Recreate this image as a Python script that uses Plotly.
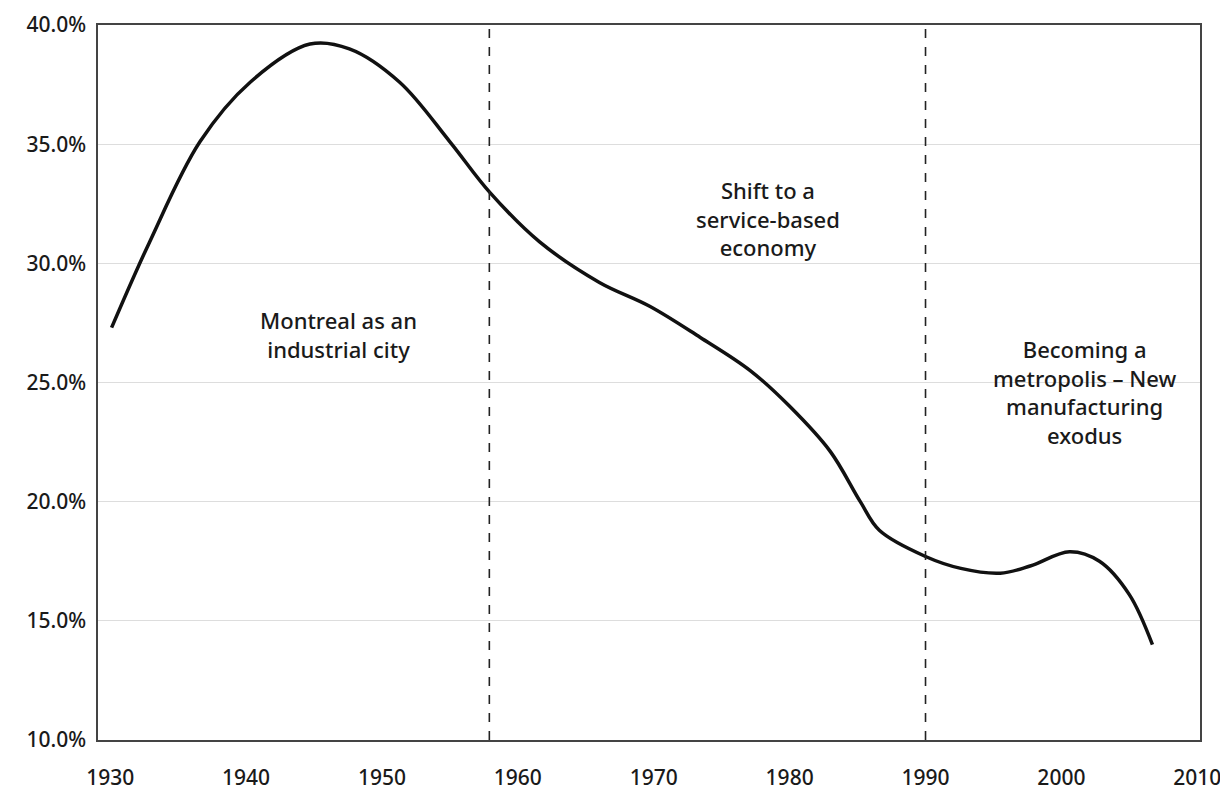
import plotly.graph_objects as go

years = [1930.1, 1932.9, 1936.6, 1940.3, 1944.7, 1947.6, 1951.3, 1955.0, 1957.9, 1961.6,
         1966.0, 1969.7, 1973.4, 1977.1, 1980.0, 1983.0, 1985.2, 1986.6, 1990.0, 1992.6,
         1995.5, 1997.7, 2000.6, 2002.8, 2005.0, 2006.7]
share = [27.3, 30.9, 35.1, 37.6, 39.2, 39.0, 37.6, 35.1, 33.0, 30.9,
         29.2, 28.2, 26.9, 25.5, 24.0, 22.1, 20.0, 18.8, 17.7, 17.2,
         17.0, 17.3, 17.9, 17.5, 16.1, 14.0]
share_frac = [v / 100 for v in share]

period_breaks = [1957.9, 1990.0]
period_labels = ["Montreal as an<br>industrial city",
                 "Shift to a<br>service-based<br>economy",
                 "Becoming a<br>metropolis – New<br>manufacturing<br>exodus"]
label_x = [1946.8, 1978.4, 2001.7]
label_y = [0.270, 0.319, 0.246]

x_ticks = [1930, 1940, 1950, 1960, 1970, 1980, 1990, 2000, 2010]
y_ticks = [0.10, 0.15, 0.20, 0.25, 0.30, 0.35, 0.40]

font_family = "Noto Sans, Lato, sans-serif"

fig = go.Figure()
fig.add_trace(go.Scatter(x=years, y=share_frac, mode="lines",
                         line=dict(color="#111111", width=3.5, shape="spline", smoothing=1.0),
                         showlegend=False, hoverinfo="skip"))

for b in period_breaks:
    fig.add_shape(type="line", x0=b, x1=b, xref="x", y0=0, y1=1, yref="paper",
                  line=dict(color="#222222", width=1.6, dash="dash"))

for t, x, y in zip(period_labels, label_x, label_y):
    fig.add_annotation(x=x, y=y, text=t, showarrow=False,
                       font=dict(family=font_family, size=22, color="#1a1a1a", weight=500),
                       align="center")

fig.update_layout(
    width=1228, height=804,
    margin=dict(l=90, r=36, t=17, b=72),
    paper_bgcolor="white", plot_bgcolor="white",
    font=dict(family=font_family, size=21, color="#1a1a1a"),
)
fig.update_xaxes(range=[1929.1, 2010.2], tickvals=x_ticks, ticktext=[str(v) for v in x_ticks],
                 showgrid=False, showline=True, linecolor="#444444", linewidth=1.5, mirror=True,
                 ticks="", zeroline=False, ticklabelstandoff=18, automargin=False,
                 tickfont=dict(size=21, color="#1a1a1a", weight=500))
fig.update_yaxes(range=[0.10, 0.40], tickvals=y_ticks, tickformat=".1%",
                 showgrid=True, gridcolor="#dddddd", gridwidth=1,
                 showline=True, linecolor="#444444", linewidth=1.5, mirror=True,
                 ticks="", zeroline=False, ticklabelstandoff=6, automargin=False,
                 tickfont=dict(size=21, color="#1a1a1a", weight=500))

fig.write_html("out.html")
